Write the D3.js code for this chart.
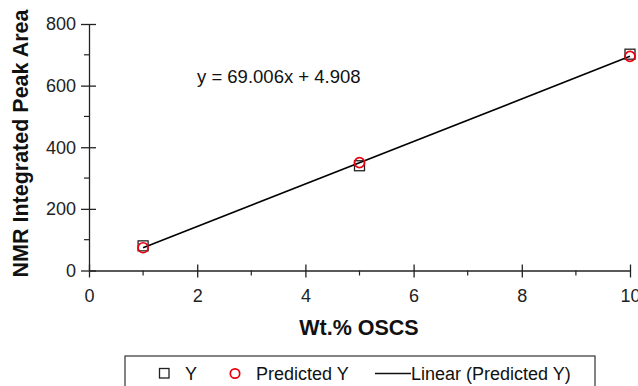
<!DOCTYPE html>
<html>
<head>
<meta charset="utf-8">
<script src="https://cdn.jsdelivr.net/npm/d3@7"></script>
<style>
  body { margin: 0; background: #fff; }
  svg { font-family: Arial, "Liberation Sans", sans-serif; }
</style>
</head>
<body>
<div id="chart"></div>
<script>
// data
var wtPct = [1, 5, 10];
var measuredY = [80, 340, 702];
var slope = 69.006, intercept = 4.908;
var predictedY = wtPct.map(function(d) { return slope * d + intercept; });
var xTicks = [0, 2, 4, 6, 8, 10];
var yTicks = [0, 200, 400, 600, 800];

var svg = d3.select('#chart').append('svg')
  .attr('width', 638)
  .attr('height', 386);

var x = d3.scaleLinear().domain([0, 10]).range([89, 630]);
var y = d3.scaleLinear().domain([0, 800]).range([270.5, 24]);

// y axis
var yAxis = svg.append('g')
  .attr('transform', 'translate(' + x(0) + ',0)')
  .call(d3.axisLeft(y).tickValues(yTicks).tickSize(8).tickSizeOuter(0));
yAxis.selectAll('.tick line').attr('x2', 7).attr('x1', -8).attr('stroke', '#222').attr('stroke-width', 1.3);
yAxis.select('.domain').attr('stroke', '#222').attr('stroke-width', 1.3);
yAxis.selectAll('.tick text')
  .attr('x', -13).attr('font-size', 18).attr('fill', '#222');
svg.append('g').selectAll('line')
  .data([100, 300, 500, 700]).enter().append('line')
  .attr('x1', x(0) - 5).attr('x2', x(0))
  .attr('y1', function(d) { return y(d); }).attr('y2', function(d) { return y(d); })
  .attr('stroke', '#222').attr('stroke-width', 1.2);

// x axis
var xAxis = svg.append('g')
  .attr('transform', 'translate(0,' + y(0) + ')')
  .call(d3.axisBottom(x).tickValues(xTicks).tickSize(7).tickSizeOuter(0));
xAxis.selectAll('.tick line').attr('y1', -6).attr('y2', 7).attr('stroke', '#222').attr('stroke-width', 1.3);
xAxis.select('.domain').attr('stroke', '#222').attr('stroke-width', 1.3);
xAxis.selectAll('.tick text')
  .attr('y', 19).attr('font-size', 18).attr('fill', '#222');
svg.append('g').selectAll('line')
  .data([1, 3, 5, 7, 9]).enter().append('line')
  .attr('x1', function(d) { return x(d); }).attr('x2', function(d) { return x(d); })
  .attr('y1', y(0)).attr('y2', y(0) + 5)
  .attr('stroke', '#222').attr('stroke-width', 1.2);

// axis titles
svg.append('text')
  .attr('transform', 'translate(27.5,143.5) rotate(-90)')
  .attr('text-anchor', 'middle')
  .attr('font-size', 21.5).attr('font-weight', 'bold').attr('fill', '#111')
  .text('NMR Integrated Peak Area');
svg.append('text')
  .attr('x', 359).attr('y', 335)
  .attr('text-anchor', 'middle')
  .attr('font-size', 21.5).attr('font-weight', 'bold').attr('fill', '#111')
  .text('Wt.% OSCS');

// trend line
var line = d3.line()
  .x(function(d) { return x(d); })
  .y(function(d) { return y(slope * d + intercept); });
svg.append('path')
  .datum([wtPct[0], wtPct[wtPct.length - 1]])
  .attr('fill', 'none')
  .attr('stroke', '#000')
  .attr('stroke-width', 1.6)
  .attr('d', line);

// measured points
svg.append('g').selectAll('rect')
  .data(wtPct).enter().append('rect')
  .attr('x', function(d) { return x(d) - 5; })
  .attr('y', function(d, i) { return y(measuredY[i]) - 5; })
  .attr('width', 10).attr('height', 10)
  .attr('fill', 'none').attr('stroke', '#222').attr('stroke-width', 1.3);

// predicted points
svg.append('g').selectAll('circle')
  .data(wtPct).enter().append('circle')
  .attr('cx', function(d) { return x(d); })
  .attr('cy', function(d, i) { return y(predictedY[i]); })
  .attr('r', 5)
  .attr('fill', 'none').attr('stroke', '#e8000b').attr('stroke-width', 1.7);

// equation
svg.append('text')
  .attr('x', 197).attr('y', 83)
  .attr('font-size', 18.5).attr('fill', '#111')
  .text('y = 69.006x + 4.908');

// legend
var lg = svg.append('g');
lg.append('rect')
  .attr('x', 125).attr('y', 356).attr('width', 470).attr('height', 40)
  .attr('fill', '#fff').attr('stroke', '#333').attr('stroke-width', 1.2);
lg.append('rect')
  .attr('x', 159.5).attr('y', 368.5).attr('width', 9.5).attr('height', 9.5)
  .attr('fill', 'none').attr('stroke', '#222').attr('stroke-width', 1.3);
lg.append('text').attr('x', 185).attr('y', 380).attr('font-size', 18).attr('fill', '#111').text('Y');
lg.append('circle')
  .attr('cx', 235).attr('cy', 373.5).attr('r', 4.7)
  .attr('fill', 'none').attr('stroke', '#e8000b').attr('stroke-width', 1.7);
lg.append('text').attr('x', 256).attr('y', 380).attr('font-size', 18).attr('fill', '#111').text('Predicted Y');
lg.append('line')
  .attr('x1', 375).attr('x2', 411).attr('y1', 373.5).attr('y2', 373.5)
  .attr('stroke', '#111').attr('stroke-width', 1.4);
lg.append('text').attr('x', 411).attr('y', 380).attr('font-size', 18).attr('fill', '#111').text('Linear (Predicted Y)');
</script>
</body>
</html>
